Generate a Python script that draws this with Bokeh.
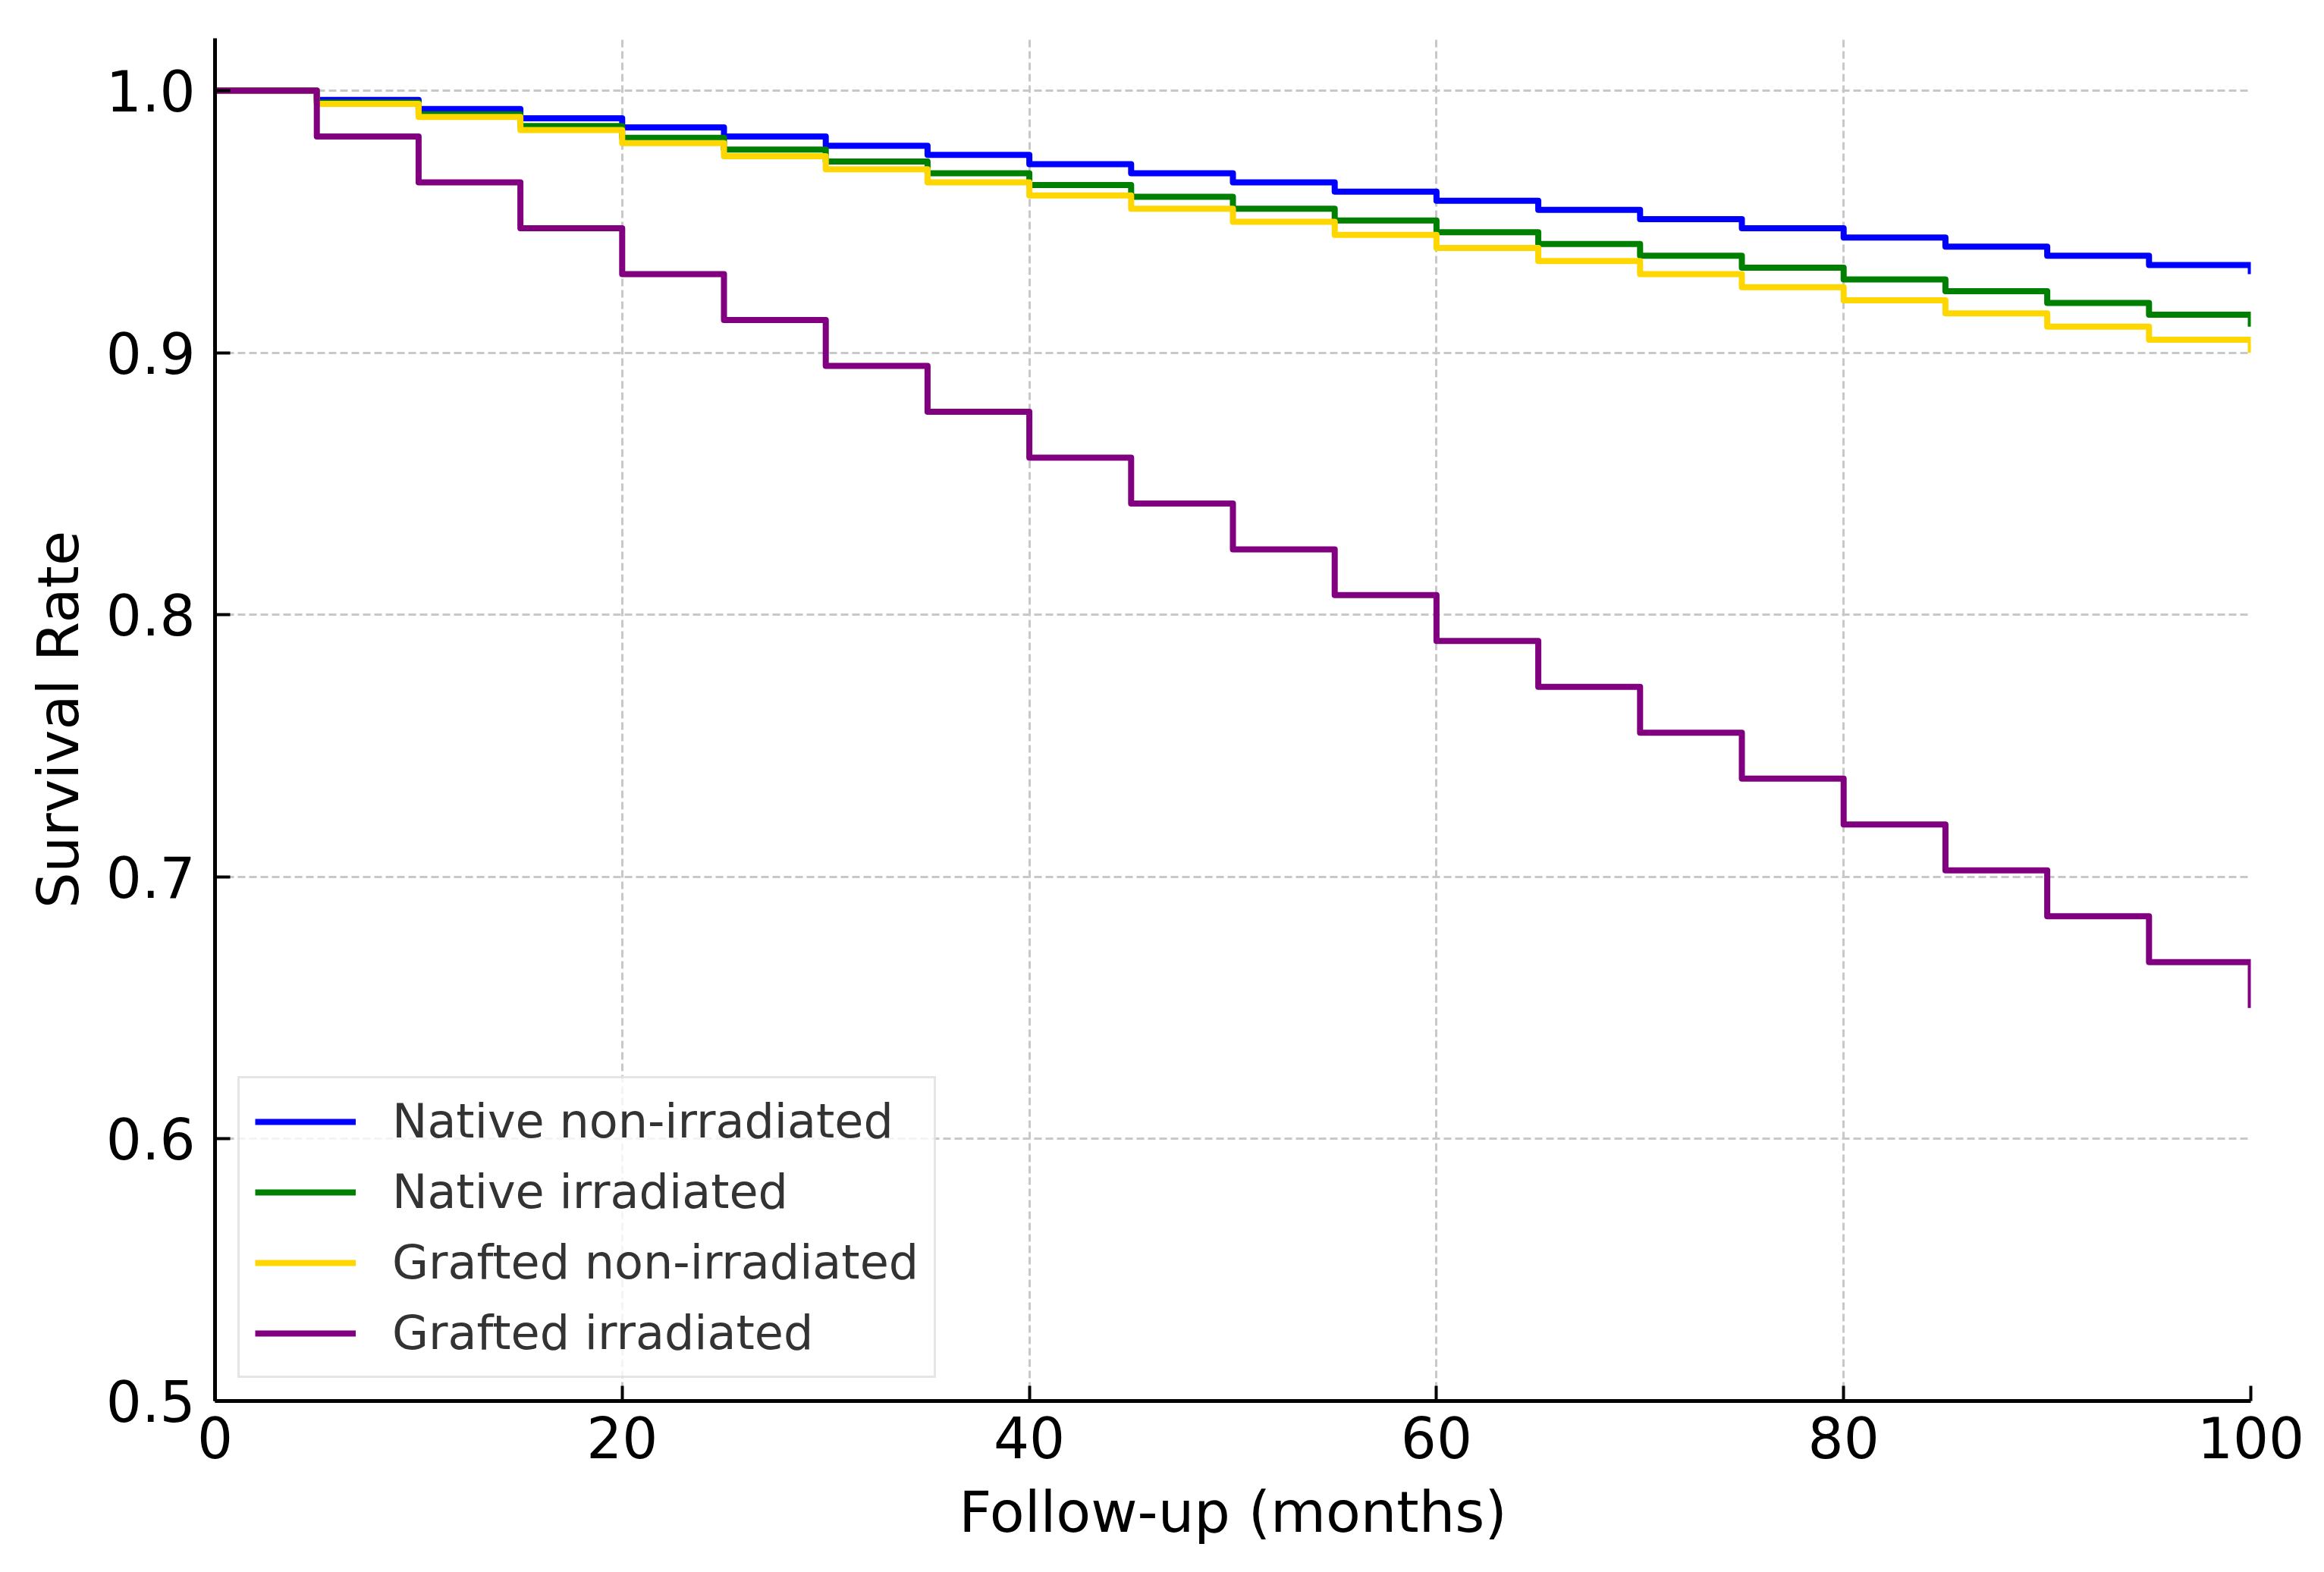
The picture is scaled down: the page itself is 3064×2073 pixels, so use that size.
from bokeh.plotting import figure
from bokeh.models import Range1d, FixedTicker, PrintfTickFormatter
from bokeh.embed import file_html
from bokeh.resources import INLINE

# ---- data ----
months = [0, 5, 10, 15, 20, 25, 30, 35, 40, 45, 50, 55, 60, 65, 70, 75, 80, 85, 90, 95, 100]
native_nonirr = [1.000, 0.9965, 0.993, 0.9895, 0.986, 0.9825, 0.979, 0.9755, 0.972, 0.9685, 0.965,
                 0.9615, 0.958, 0.9545, 0.951, 0.9475, 0.944, 0.9405, 0.937, 0.9335, 0.930]
native_irr = [1.000, 0.9955, 0.991, 0.9865, 0.982, 0.9775, 0.973, 0.9685, 0.964, 0.9595, 0.955,
              0.9505, 0.946, 0.9415, 0.937, 0.9325, 0.928, 0.9235, 0.919, 0.9145, 0.910]
grafted_nonirr = [1.000, 0.995, 0.990, 0.985, 0.980, 0.975, 0.970, 0.965, 0.960, 0.955, 0.950,
                  0.945, 0.940, 0.935, 0.930, 0.925, 0.920, 0.915, 0.910, 0.905, 0.900]
grafted_irr = [1.000, 0.9825, 0.965, 0.9475, 0.930, 0.9125, 0.895, 0.8775, 0.860, 0.8425, 0.825,
               0.8075, 0.790, 0.7725, 0.755, 0.7375, 0.720, 0.7025, 0.685, 0.6675, 0.650]

series_names = ["Native non-irradiated", "Native irradiated", "Grafted non-irradiated", "Grafted irradiated"]
series_colors = ["#0000ff", "#008000", "#ffd700", "#800080"]
series_values = [native_nonirr, native_irr, grafted_nonirr, grafted_irr]

x_ticks = [0, 20, 40, 60, 80, 100]
y_ticks = [0.5, 0.6, 0.7, 0.8, 0.9, 1.0]

FONT = "DejaVu Sans"

p = figure(width=3048, height=2057, output_backend="svg", toolbar_location=None,
           x_range=Range1d(0, 100), y_range=Range1d(0.5, 1.02),
           min_border_left=283, min_border_right=81, min_border_top=50, min_border_bottom=210)
p.outline_line_color = None
p.background_fill_color = "white"
p.border_fill_color = "white"

for name, col, vals in zip(series_names, series_colors, series_values):
    p.step(months, vals, mode="after", line_width=8, line_color=col, legend_label=name,
           line_join="round")

# grid
for g in (p.xgrid, p.ygrid):
    g.grid_line_color = "#c8c8c8"
    g.grid_line_width = 3
    g.grid_line_dash = "10 5"
p.xgrid.ticker = FixedTicker(ticks=x_ticks)
p.ygrid.ticker = FixedTicker(ticks=y_ticks)

# axes
p.xaxis.ticker = FixedTicker(ticks=x_ticks)
p.yaxis.ticker = FixedTicker(ticks=y_ticks)
p.yaxis.formatter = PrintfTickFormatter(format="%.1f")
p.xaxis.axis_label = "Follow-up (months)"
p.yaxis.axis_label = "Survival Rate"
for ax in (p.xaxis, p.yaxis):
    ax.axis_line_width = 5
    ax.axis_line_color = "black"
    ax.major_tick_in = 20
    ax.major_tick_out = 0
    ax.major_tick_line_width = 4
    ax.minor_tick_line_color = None
    ax.major_label_text_font = FONT
    ax.major_label_text_font_size = "74px"
    ax.major_label_text_color = "black"
    ax.axis_label_text_font = FONT
    ax.axis_label_text_font_size = "75px"
    ax.axis_label_text_font_style = "normal"
    ax.axis_label_text_color = "black"
p.xaxis.major_label_standoff = 20
p.yaxis.major_label_standoff = 26
p.xaxis.axis_label_standoff = 24
p.yaxis.axis_label_standoff = 16

# legend
lg = p.legend[0]
lg.location = (30, 30)
lg.margin = 0
lg.padding = 20
lg.spacing = 20
lg.glyph_width = 133
lg.glyph_height = 60
lg.label_height = 60
lg.label_standoff = 48
lg.label_text_font = FONT
lg.label_text_font_size = "62px"
lg.label_text_color = "#333333"
lg.label_text_baseline = "middle"
lg.border_line_color = "#cccccc"
lg.border_line_width = 3
lg.background_fill_color = "white"
lg.background_fill_alpha = 0.8

open("out.html", "w").write(file_html(p, INLINE))
